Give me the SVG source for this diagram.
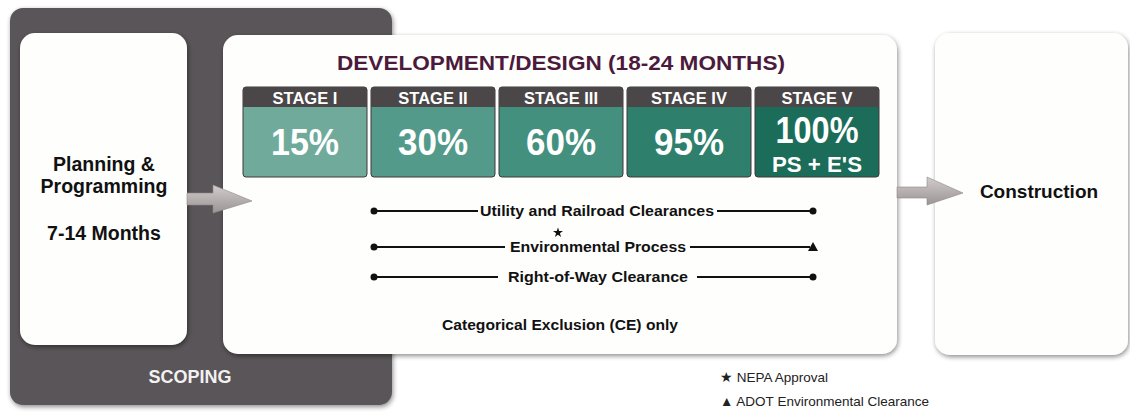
<svg xmlns="http://www.w3.org/2000/svg" width="1130" height="413" viewBox="0 0 1130 413">
<style>
.b{font-family:"Liberation Sans",Arial,sans-serif;font-weight:bold}
.r{font-family:"Liberation Sans",Arial,sans-serif}
.box{fill:#fefefd}
.hdr{fill:#4b4648}
.stg{fill:#ffffff;font-size:16.5px;text-anchor:middle}
.pct{fill:#ffffff;font-size:37px;text-anchor:middle}
.ln{stroke:#111;stroke-width:2.2;fill:none}
.dot{fill:#111}
.lbl{fill:#111;font-size:15px;text-anchor:middle}
</style>
<defs>
<filter id="sh" x="-10%" y="-10%" width="120%" height="120%">
<feGaussianBlur in="SourceAlpha" stdDeviation="2.5"/>
<feOffset dx="1" dy="2"/>
<feComponentTransfer><feFuncA type="linear" slope="0.45"/></feComponentTransfer>
<feMerge><feMergeNode/><feMergeNode in="SourceGraphic"/></feMerge>
</filter>
<linearGradient id="ag" x1="0" y1="0" x2="0" y2="1">
<stop offset="0" stop-color="#d2cdcc"/>
<stop offset="1" stop-color="#9a9494"/>
</linearGradient>
</defs>
<rect width="1130" height="413" fill="#ffffff"/>

<g id="scoping">
<rect x="10" y="8" width="382" height="397" rx="13" fill="#5a5558" filter="url(#sh)"/>
<text class="b" x="190" y="383" font-size="18" fill="#f2f2f2" text-anchor="middle">SCOPING</text>
</g>

<g id="planning">
<rect class="box" x="20" y="33" width="167" height="312" rx="15" filter="url(#sh)"/>
<text class="b" x="104" y="171" font-size="19.5" fill="#111" text-anchor="middle">Planning &amp;</text>
<text class="b" x="104" y="193" font-size="19.5" fill="#111" text-anchor="middle">Programming</text>
<text class="b" x="104" y="240" font-size="19.5" fill="#111" text-anchor="middle">7-14 Months</text>
</g>

<g id="development">
<rect class="box" x="223" y="35" width="674" height="319" rx="15" filter="url(#sh)"/>
<text class="b" x="561" y="70" font-size="21" fill="#4b1a3c" text-anchor="middle" textLength="448" lengthAdjust="spacingAndGlyphs">DEVELOPMENT/DESIGN (18-24 MONTHS)</text>
</g>

<g id="stage1">
<rect x="243" y="87" width="124" height="90" rx="3" fill="#70aa9b" stroke="#3d3a3b" stroke-width="1"/>
<path class="hdr" d="M243 107V90a3 3 0 0 1 3-3h118a3 3 0 0 1 3 3v17z"/>
<text class="b stg" x="305" y="104">STAGE I</text>
<text class="b pct" x="305" y="155" textLength="68" lengthAdjust="spacingAndGlyphs">15%</text>
</g>
<g id="stage2">
<rect x="371" y="87" width="124" height="90" rx="3" fill="#549a8a" stroke="#3d3a3b" stroke-width="1"/>
<path class="hdr" d="M371 107V90a3 3 0 0 1 3-3h118a3 3 0 0 1 3 3v17z"/>
<text class="b stg" x="433" y="104">STAGE II</text>
<text class="b pct" x="433" y="155" textLength="70" lengthAdjust="spacingAndGlyphs">30%</text>
</g>
<g id="stage3">
<rect x="499" y="87" width="124" height="90" rx="3" fill="#44907e" stroke="#3d3a3b" stroke-width="1"/>
<path class="hdr" d="M499 107V90a3 3 0 0 1 3-3h118a3 3 0 0 1 3 3v17z"/>
<text class="b stg" x="561" y="104">STAGE III</text>
<text class="b pct" x="561" y="155" textLength="70" lengthAdjust="spacingAndGlyphs">60%</text>
</g>
<g id="stage4">
<rect x="627" y="87" width="124" height="90" rx="3" fill="#2e7f6c" stroke="#3d3a3b" stroke-width="1"/>
<path class="hdr" d="M627 107V90a3 3 0 0 1 3-3h118a3 3 0 0 1 3 3v17z"/>
<text class="b stg" x="689" y="104">STAGE IV</text>
<text class="b pct" x="689" y="155" textLength="70" lengthAdjust="spacingAndGlyphs">95%</text>
</g>
<g id="stage5">
<rect x="755" y="87" width="124" height="90" rx="3" fill="#1c6c5a" stroke="#3d3a3b" stroke-width="1"/>
<path class="hdr" d="M755 107V90a3 3 0 0 1 3-3h118a3 3 0 0 1 3 3v17z"/>
<text class="b stg" x="817" y="104">STAGE V</text>
<text class="b pct" x="817" y="143" textLength="83" lengthAdjust="spacingAndGlyphs">100%</text>
<text class="b" x="817" y="172" font-size="22" fill="#ffffff" text-anchor="middle" textLength="90" lengthAdjust="spacingAndGlyphs">PS + E'S</text>
</g>

<g id="construction">
<rect class="box" x="935" y="33" width="193" height="322" rx="15" filter="url(#sh)"/>
<text class="b" x="1039" y="198" font-size="19" fill="#111" text-anchor="middle">Construction</text>
</g>

<g id="connectors">
<path d="M187 193H213V185L252 201L213 213V205H187Z" fill="url(#ag)" stroke="#8e8888" stroke-width="0.6"/>
<path d="M897 187H927V177L963 193L927 205V198H897Z" fill="url(#ag)" stroke="#8e8888" stroke-width="0.6"/>
</g>

<g id="clearances">
<line class="ln" x1="374" y1="211" x2="478" y2="211"/>
<line class="ln" x1="717" y1="211" x2="813" y2="211"/>
<circle class="dot" cx="374" cy="211" r="3.5"/>
<circle class="dot" cx="813" cy="211" r="3.5"/>
<text class="b lbl" x="597" y="216" textLength="234" lengthAdjust="spacingAndGlyphs">Utility and Railroad Clearances</text>

<line class="ln" x1="374" y1="247" x2="505" y2="247"/>
<line class="ln" x1="690" y1="247" x2="810" y2="247"/>
<circle class="dot" cx="374" cy="247" r="3.5"/>
<path class="dot" d="M813 242L818 251H808Z"/>
<path class="dot" d="M558 227.5l1.2 3.6h3.8l-3.1 2.2 1.2 3.6-3.1-2.2-3.1 2.2 1.2-3.6-3.1-2.2h3.8z"/>
<text class="b lbl" x="598" y="252" textLength="176" lengthAdjust="spacingAndGlyphs">Environmental Process</text>

<line class="ln" x1="374" y1="277" x2="498" y2="277"/>
<line class="ln" x1="697" y1="277" x2="813" y2="277"/>
<circle class="dot" cx="374" cy="277" r="3.5"/>
<circle class="dot" cx="813" cy="277" r="3.5"/>
<text class="b lbl" x="598" y="282" textLength="180" lengthAdjust="spacingAndGlyphs">Right-of-Way Clearance</text>

<text class="b lbl" x="560" y="330" textLength="236" lengthAdjust="spacingAndGlyphs">Categorical Exclusion (CE) only</text>
</g>

<g id="legend">
<text class="r" x="720" y="382" font-size="13.5" fill="#222">★ NEPA Approval</text>
<text class="r" x="720" y="406" font-size="13.5" fill="#222">▲ ADOT Environmental Clearance</text>
</g>
</svg>
